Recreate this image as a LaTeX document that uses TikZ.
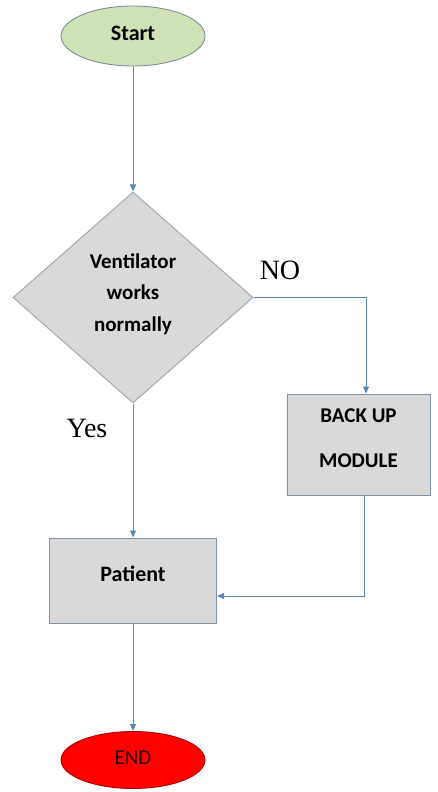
\documentclass[tikz,border=0pt]{standalone}
\usepackage{fontspec}
\setmainfont{Liberation Serif}
\setsansfont{Carlito}
\usetikzlibrary{arrows.meta,shapes.geometric}
\definecolor{vfBlue}{HTML}{5B87B5}
\definecolor{vfEdge}{HTML}{7D8EA0}
\definecolor{vfGray}{HTML}{D9D9D9}
\definecolor{vfGreen}{HTML}{CFE2B6}
\definecolor{vfRed}{HTML}{FF0000}
\definecolor{vfDarkRed}{HTML}{B00000}
\definecolor{vfInk}{HTML}{2A0000}
\newcommand{\vflift}[2]{\raisebox{#1}[\height][\depth]{#2}}
\tikzset{
  vf flow/.style={draw=vfBlue, line width=0.9pt, -{Triangle[length=7pt,width=6pt]}},
  vf terminal/.style={ellipse, line width=0.9pt, minimum width=144pt, minimum height=60pt, inner sep=0pt},
  vf box/.style={rectangle, draw=vfEdge, fill=vfGray, line width=1pt, inner sep=0pt, font=\sffamily\bfseries\fontsize{21}{26}\selectfont},
  vf decision/.style={diamond, draw=vfEdge!75, fill=vfGray, line width=1pt, inner sep=0pt, minimum width=240pt, minimum height=211pt, font=\sffamily\bfseries\fontsize{21}{31.5}\selectfont},
  vf answer/.style={font=\fontsize{28}{32}\selectfont},
}

\begin{document}
\begin{tikzpicture}[x=1pt, y=-1pt]
  \useasboundingbox (0,0) rectangle (438,792);

  % Terminals
  \node[vf terminal, draw=vfEdge, fill=vfGreen, font=\sffamily\bfseries\fontsize{22}{26}\selectfont] (start) at (133,36) {\vflift{3pt}{Start}};
  \node[vf terminal, draw=vfDarkRed, fill=vfRed, text=vfInk, minimum height=57pt, font=\sffamily\fontsize{21}{26}\selectfont] (stop) at (133,760) {\vflift{2pt}{END}};

  % Decision and boxes
  \node[vf decision] (check) at (133,297.5) {\vflift{4pt}{\begin{tabular}{@{}c@{}}Ventilator\\works\\normally\end{tabular}}};
  \node[vf box, minimum width=143pt, minimum height=101pt, font=\sffamily\bfseries\fontsize{21}{45}\selectfont] (backup) at (358.5,444.5)
    {\vflift{9pt}{\begin{tabular}{@{}c@{}}BACK UP\\MODULE\end{tabular}}};
  \node[vf box, minimum width=167pt, minimum height=85pt, font=\sffamily\bfseries\fontsize{22}{26}\selectfont] (patient) at (133,580.5) {\vflift{7pt}{Patient}};

  % Answers
  \node[vf answer] (no) at (280,270) {NO};
  \node[vf answer] (yes) at (87,428) {Yes};

  % Connectors
  \draw[vf flow] (start) -- (check);
  \draw[vf flow] (check.east) -| ([xshift=7.5pt]backup.north);
  \draw[vf flow] (check) -- (patient);
  \draw[vf flow] ([xshift=6pt]backup.south) |- ([yshift=-15.5pt]patient.east);
  \draw[vf flow] (patient) -- (stop);
\end{tikzpicture}
\end{document}
